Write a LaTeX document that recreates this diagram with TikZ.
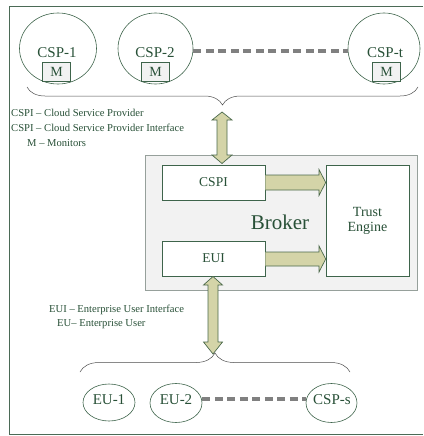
\documentclass[tikz,border=0pt]{standalone}
\usepackage{fontspec}
\setmainfont{Liberation Serif}
\usetikzlibrary{calc,decorations.pathreplacing,shapes.geometric}
\definecolor{dg}{RGB}{62,100,75}
\definecolor{txt}{RGB}{40,80,55}
\definecolor{khaki}{RGB}{212,212,168}
\definecolor{arrline}{RGB}{75,105,75}
\definecolor{brokerfill}{RGB}{242,242,242}
\definecolor{brokerline}{RGB}{150,160,155}
\definecolor{dashgray}{RGB}{128,128,128}
\tikzset{
  csp/.style={draw=dg, line width=0.6pt, ellipse, inner sep=0pt},
  mbox/.style={draw=dg, fill=brokerfill, line width=0.6pt, minimum width=28pt, minimum height=19pt, inner sep=0pt, font=\fontsize{14}{14}\selectfont, text=txt},
  wbox/.style={draw=dg, fill=white, line width=0.6pt, inner sep=0pt, text=txt},
  lbl/.style={text=txt, font=\fontsize{15}{15}\selectfont},
  legend/.style={text=txt, font=\fontsize{10.6}{11}\selectfont, anchor=west, inner sep=0pt},
  fat/.style={fill=khaki, draw=arrline, line width=0.7pt, line join=miter},
  dots/.style={draw=dashgray, line width=4pt, dash pattern=on 8pt off 4.5pt},
  brace/.style={draw=black!70, line width=0.5pt}
}
\begin{document}
\begin{tikzpicture}[x=1pt,y=-1pt]
\useasboundingbox (0,0) rectangle (423,436);
% frame
\draw[draw=dg!80!gray, line width=0.8pt] (423,6) -- (9,6) -- (9,434) -- (423,434);
% top CSPs
\node[csp, minimum width=77pt, minimum height=71pt] (c1) at (58,48.5) {};
\node[csp, minimum width=75pt, minimum height=71pt] (c2) at (155.5,48.5) {};
\node[csp, minimum width=72pt, minimum height=71pt] (ct) at (384,48.5) {};
\node[lbl] (c1l) at (57,52.5) {CSP-1};
\node[lbl] (c2l) at (155,52.5) {CSP-2};
\node[lbl] (ctl) at (385,52.5) {CSP-t};
\node[mbox] (m1) at (56.5,72) {M};
\node[mbox] (m2) at (155.5,72) {M};
\node[mbox] (mt) at (386.5,72) {M};
\draw[dots] (c2.east |- 0,51) -- (ct.west |- 0,51);
% top brace
\coordinate (tb1) at (27,87);
\coordinate (tb2) at (418,87);
\draw[brace, decorate, decoration={brace, amplitude=18pt, aspect=0.5, mirror}] (tb1) -- (tb2);
% legend
\node[legend] (lg1) at (11,113) {CSPI – Cloud Service Provider};
\node[legend] (lg2) at (11,128) {CSPI – Cloud Service Provider Interface};
\node[legend] (lg3) at (27,143) {M – Monitors};
% broker
\node[draw=brokerline, fill=brokerfill, line width=0.8pt, minimum width=272pt, minimum height=135pt, inner sep=0pt] (broker) at (281,222.5) {};
\node[wbox, minimum width=103pt, minimum height=35pt, font=\fontsize{13.5}{14}\selectfont] (cspi) at (213.5,182.5) {CSPI};
\node[wbox, minimum width=103pt, minimum height=35pt, font=\fontsize{13.5}{14}\selectfont] (eui) at (213.5,258.5) {EUI};
\node[wbox, minimum width=83pt, minimum height=111pt, font=\fontsize{14}{15}\selectfont, align=center] (te) at (367.5,220.5) {Trust\\Engine};
\node[text=txt, font=\fontsize{21}{21}\selectfont] (bl) at (280,222) {Broker};
% top double arrow
\draw[fat] (222,112) -- (232,120) -- (227,120) -- (227,155) -- (232,155) -- (222,163.5)
  -- (212,155) -- (217,155) -- (217,120) -- (212,120) -- cycle;
% right arrows
\draw[fat] (cspi.east |- 0,175) -- (319,175) -- (319,169.5) -- (te.west |- 0,182.5) -- (319,195.5) -- (319,190) -- (cspi.east |- 0,190) ;
\draw[fat] (eui.east |- 0,252) -- (319,252) -- (319,246) -- (te.west |- 0,259) -- (319,272) -- (319,266) -- (eui.east |- 0,266);
% bottom double arrow
\draw[fat] (213,276.5) -- (222.5,285) -- (218,285) -- (218,342) -- (222.5,342) -- (213,354)
  -- (203.5,342) -- (208,342) -- (208,285) -- (203.5,285) -- cycle;
% bottom legend
\node[legend] (lg4) at (49,310) {EUI – Enterprise User Interface};
\node[legend] (lg5) at (57,324.5) {EU– Enterprise User};
% bottom brace
\coordinate (bb1) at (80,372);
\coordinate (bb2) at (350,372);
\draw[brace, decorate, decoration={brace, amplitude=19pt}] (bb1) -- (bb2);
% bottom ellipses
\node[csp, minimum width=52pt, minimum height=37pt] (e1) at (109,402.5) {};
\node[csp, minimum width=52pt, minimum height=39pt] (e2) at (176,403) {};
\node[csp, minimum width=51pt, minimum height=39pt] (es) at (331.5,403) {};
\node[lbl] (e1l) at (109,400) {EU-1};
\node[lbl] (e2l) at (176,400) {EU-2};
\node[lbl] (esl) at (332,400) {CSP-s};
\draw[dots] (e2.east |- 0,398.5) -- (es.west |- 0,398.5);
\end{tikzpicture}
\end{document}
